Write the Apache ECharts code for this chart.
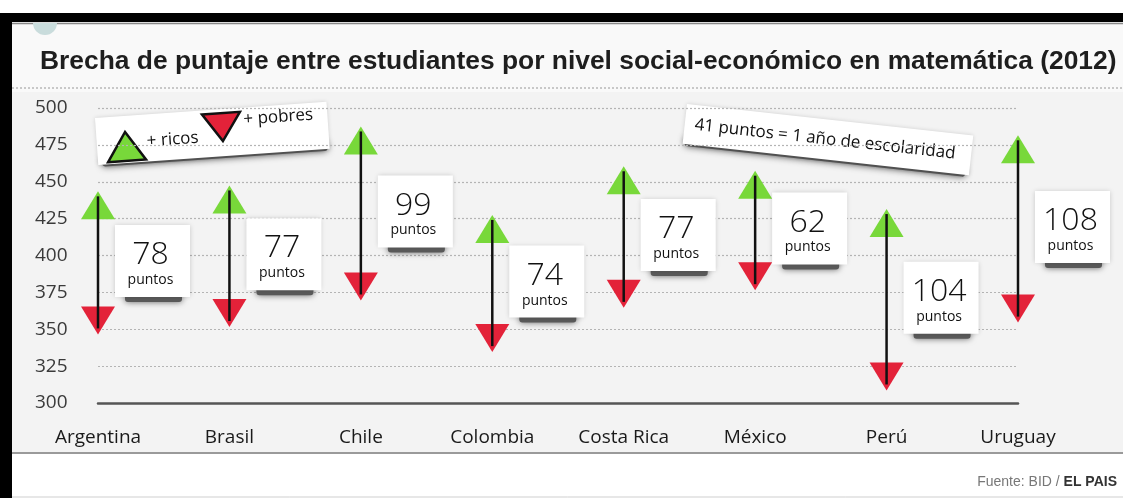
<!DOCTYPE html>
<html>
<head>
<meta charset="utf-8">
<script src="https://cdn.jsdelivr.net/npm/echarts@6/dist/echarts.min.js"></script>
<style>
html,body{margin:0;padding:0;background:#fff;}
#chart{width:1123px;height:498px;}
</style>
</head>
<body>
<div id="chart"></div>
<script>
// ---- data ----
const countries = ['Argentina', 'Brasil', 'Chile', 'Colombia', 'Costa Rica', 'México', 'Perú', 'Uruguay'];
const richScores = [434, 438, 478, 418, 451, 448, 422, 472];   // + ricos
const poorScores = [356, 361, 379, 344, 374, 386, 318, 364];   // + pobres
const gapPoints  = [78, 77, 99, 74, 77, 62, 104, 108];
const yMin = 300, yMax = 500, yStep = 25;

const titleText = 'Brecha de puntaje entre estudiantes por nivel social-económico en matemática (2012)';
const legendRich = '+ ricos';
const legendPoor = '+ pobres';
const noteText = '41 puntos = 1 año de escolaridad';
const unitText = 'puntos';

const seriesData = countries.map((c, i) => [i, richScores[i], poorScores[i], gapPoints[i]]);

const GREEN = '#78d83a';
const RED = '#e32239';
const HAND = '"Open Sans", "Noto Sans", sans-serif';

const chart = echarts.init(document.getElementById('chart'));

function renderItem(params, api) {
  const idx = api.value(0);
  const hi = api.coord([idx, api.value(1)]);
  const lo = api.coord([idx, api.value(2)]);
  const mid = api.coord([idx, (api.value(1) + api.value(2)) / 2]);
  const x = hi[0];
  const tw = 34, th = 28;
  const bw = 75, bh = 72;
  const bl = x + 17, bt = mid[1] - bh / 2 - 2;
  return {
    type: 'group',
    children: [
      { type: 'polygon', shape: { points: [[x, hi[1] - th / 2], [x - tw / 2, hi[1] + th / 2], [x + tw / 2, hi[1] + th / 2]] },
        style: { fill: GREEN } },
      { type: 'polygon', shape: { points: [[x, lo[1] + th / 2], [x - tw / 2, lo[1] - th / 2], [x + tw / 2, lo[1] - th / 2]] },
        style: { fill: RED } },
      { type: 'line', shape: { x1: x, y1: hi[1] - th / 2 + 5, x2: x, y2: lo[1] + th / 2 - 6 },
        style: { stroke: '#111', lineWidth: 2.5 } },
      { type: 'rect', shape: { x: bl + 10, y: bt + bh - 4, width: bw - 18, height: 9, r: 3 },
        style: { fill: '#5a5a5a', shadowBlur: 6, shadowColor: 'rgba(0,0,0,0.6)' } },
      { type: 'rect', shape: { x: bl, y: bt, width: bw, height: bh },
        style: { fill: '#ffffff', shadowBlur: 5, shadowColor: 'rgba(0,0,0,0.18)' } },
      { type: 'text', style: { x: bl + bw / 2 - 2, y: bt + 30, text: String(api.value(3)), fill: '#111',
          font: '300 32px ' + HAND, align: 'center', verticalAlign: 'middle' } },
      { type: 'text', style: { x: bl + bw / 2 - 2, y: bt + 55, text: unitText, fill: '#111',
          font: '14px ' + HAND, align: 'center', verticalAlign: 'middle' } }
    ]
  };
}

const option = {
  backgroundColor: '#f3f3f3',
  animation: false,
  title: {
    text: titleText,
    left: 35, top: 44,
    textStyle: { fontFamily: '"Liberation Sans", Arial, sans-serif', fontWeight: 'bold', fontSize: 26.4, color: '#1e1e1e' }
  },
  grid: { left: 98, right: 105, top: 108, bottom: 95 },
  xAxis: {
    type: 'category',
    data: countries,
    boundaryGap: false,
    axisLine: { show: true, lineStyle: { color: '#555', width: 2.5 } },
    axisTick: { show: false },
    axisLabel: { margin: 25, fontFamily: HAND, fontSize: 19, color: '#1a1a1a', interval: 0 },
    splitLine: { show: false }
  },
  yAxis: {
    type: 'value',
    min: yMin, max: yMax, interval: yStep,
    axisLine: { show: false },
    axisTick: { show: false },
    axisLabel: { align: 'left', margin: 63, fontFamily: HAND, fontSize: 19, color: '#3a3a3a' },
    splitLine: { show: true, lineStyle: { color: '#b4b4b4', type: [2, 2], width: 1.2 } }
  },
  series: [{
    type: 'custom',
    data: seriesData,
    renderItem: renderItem,
    encode: { x: 0, y: [1, 2] },
    z: 5
  }],
  graphic: [
    // title band, top margin & footer backgrounds
    { type: 'rect', z: -10, shape: { x: 0, y: 22, width: 1123, height: 70 }, style: { fill: '#f9f9f9' } },
    { type: 'rect', z: 19, shape: { x: 0, y: 0, width: 1123, height: 13 }, style: { fill: '#ffffff' } },
    { type: 'rect', z: -10, shape: { x: 0, y: 453, width: 1123, height: 45 }, style: { fill: '#ffffff' } },
    { type: 'line', shape: { x1: 12, y1: 453, x2: 1123, y2: 453 }, style: { stroke: '#9a9a9a', lineWidth: 2 } },
    { type: 'line', shape: { x1: 12, y1: 497, x2: 1123, y2: 497 }, style: { stroke: '#cfcfcf', lineWidth: 1 } },
    // dotted rule under title
    { type: 'line', shape: { x1: 12, y1: 88, x2: 1123, y2: 88 }, style: { stroke: '#a8a8a8', lineWidth: 1.2, lineDash: [2, 2] } },
    // frame
    { type: 'rect', z: 20, shape: { x: 6, y: 13, width: 1117, height: 9 }, style: { fill: '#000' } },
    { type: 'line', z: 20, shape: { x1: 12, y1: 23.5, x2: 1123, y2: 23.5 }, style: { stroke: '#888', lineWidth: 1.5 } },
    { type: 'rect', z: 20, shape: { x: 0, y: 13, width: 12, height: 485 }, style: { fill: '#000' } },
    // decoration half circle peeking below the frame
    { type: 'sector', z: 21, shape: { cx: 45, cy: 23, r0: 0, r: 12, startAngle: 0, endAngle: Math.PI, clockwise: true },
      style: { fill: '#c9dcdc' } },
    // legend paper
    {
      type: 'group', x: 95, y: 118, rotation: 0.07, z: 10,
      children: [
        { type: 'rect', shape: { x: 4, y: 40, width: 226, height: 9, r: 3 },
          style: { fill: '#555', shadowBlur: 7, shadowColor: 'rgba(0,0,0,0.7)' } },
        { type: 'rect', shape: { x: 0, y: 0, width: 232, height: 47 },
          style: { fill: '#fff', shadowBlur: 4, shadowColor: 'rgba(0,0,0,0.15)' } },
        { type: 'polygon', shape: { points: [[10, 45], [48, 45], [29, 16]] },
          style: { fill: GREEN, stroke: '#111', lineWidth: 2.5 } },
        { type: 'text', style: { x: 50, y: 27, text: legendRich, font: '17px ' + HAND, fill: '#111', verticalAlign: 'middle' } },
        { type: 'polygon', shape: { points: [[107, 4], [145, 4], [126, 32]] },
          style: { fill: RED, stroke: '#111', lineWidth: 2.5 } },
        { type: 'text', style: { x: 148, y: 12, text: legendPoor, font: '17px ' + HAND, fill: '#111', verticalAlign: 'middle' } }
      ]
    },
    // note paper
    {
      type: 'group', x: 687, y: 104, rotation: -0.11, z: 10,
      children: [
        { type: 'rect', shape: { x: 2, y: 33, width: 282, height: 9, r: 3 },
          style: { fill: '#555', shadowBlur: 7, shadowColor: 'rgba(0,0,0,0.7)' } },
        { type: 'rect', shape: { x: 0, y: 0, width: 288, height: 40 },
          style: { fill: '#fff', shadowBlur: 4, shadowColor: 'rgba(0,0,0,0.15)' } },
        { type: 'text', style: { x: 10, y: 20, text: noteText, font: '17px ' + HAND, fill: '#111', verticalAlign: 'middle' } }
      ]
    },
    // source
    {
      type: 'text', right: 6, top: 475, z: 10,
      style: {
        text: '{a|Fuente: BID / }{b|EL PAIS}',
        rich: {
          a: { fontFamily: '"Liberation Sans Narrow", "Liberation Sans", sans-serif', fontSize: 14, fill: '#777' },
          b: { fontFamily: '"Liberation Sans Narrow", "Liberation Sans", sans-serif', fontSize: 14, fontWeight: 'bold', fill: '#333' }
        }
      }
    }
  ]
};
chart.setOption(option);
</script>
</body>
</html>
